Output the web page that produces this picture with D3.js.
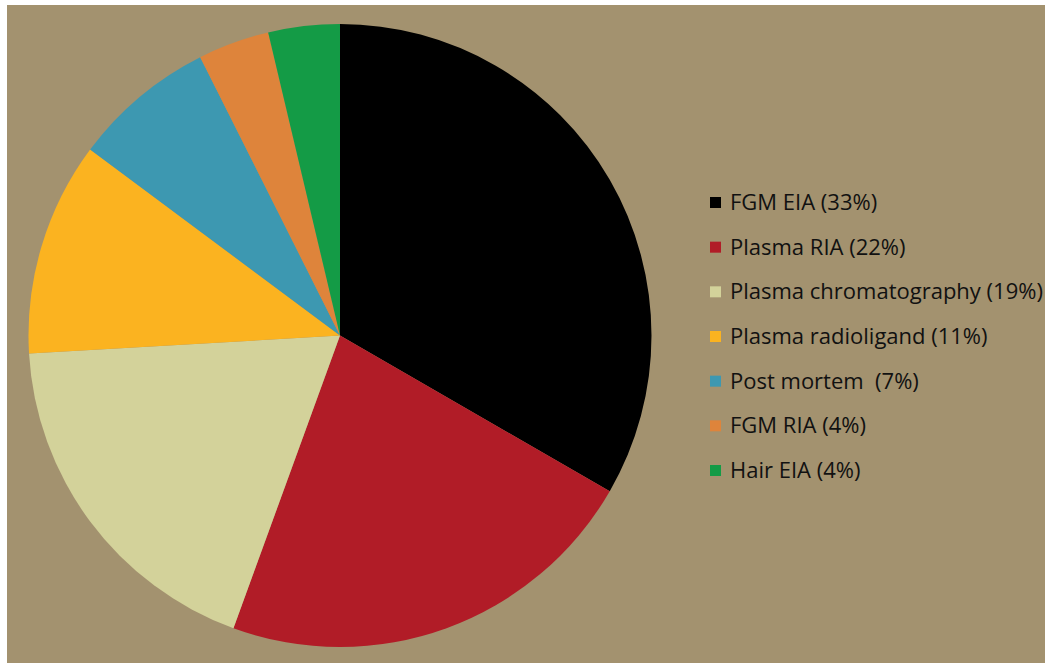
<!DOCTYPE html>
<html>
<head>
<meta charset="utf-8">
<script src="https://cdn.jsdelivr.net/npm/d3@7/dist/d3.min.js"></script>
<style>
  html, body { margin: 0; padding: 0; background: #ffffff; }
  svg { display: block; }
</style>
</head>
<body>
<div id="chart"></div>
<script>
// Data: study counts by method (n = 27), legend labels as printed
const methods = ['FGM EIA', 'Plasma RIA', 'Plasma chromatography', 'Plasma radioligand', 'Post mortem', 'FGM RIA', 'Hair EIA'];
const counts = [9, 6, 5, 3, 2, 1, 1];
const legendLabels = ['FGM EIA (33%)', 'Plasma RIA (22%)', 'Plasma chromatography (19%)', 'Plasma radioligand (11%)', 'Post mortem  (7%)', 'FGM RIA (4%)', 'Hair EIA (4%)'];
const colors = ['#000000', '#b11c27', '#d3d29a', '#fbb320', '#3d98b1', '#de843b', '#149b46'];

const width = 1050;
const height = 663;

const svg = d3
  .select('#chart')
  .append('svg')
  .attr('width', width)
  .attr('height', height);

// Panel background
svg
  .append('rect')
  .attr('x', 7)
  .attr('y', 5)
  .attr('width', 1045 - 7)
  .attr('height', height - 5)
  .attr('fill', '#a3926f');

/* Pie
=========================================================================*/
const colorScale = d3.scaleOrdinal().domain(methods).range(colors);

const pie = d3.pie().value((d) => d.count).sort(null);
const arc = d3.arc().innerRadius(0).outerRadius(311.5);

const data = methods.map((m, i) => ({ method: m, count: counts[i] }));

svg
  .append('g')
  .attr('transform', 'translate(340, 335.5)')
  .selectAll('path')
  .data(pie(data))
  .enter()
  .append('path')
  .attr('d', arc)
  .attr('fill', (d) => colorScale(d.data.method));

/* Legend
=========================================================================*/
const legendY = d3.scalePoint().domain(methods).range([202, 470]);

const legend = svg.append('g').attr('transform', 'translate(710, 0)');

const items = legend
  .selectAll('g')
  .data(methods)
  .enter()
  .append('g')
  .attr('transform', (d) => `translate(0, ${legendY(d)})`);

items
  .append('rect')
  .attr('x', 0)
  .attr('y', -5)
  .attr('width', 11)
  .attr('height', 11)
  .attr('fill', (d) => colorScale(d));

items
  .append('text')
  .attr('x', 20)
  .attr('y', 8)
  .style('font-family', '"Open Sans", sans-serif')
  .style('font-size', '22px')
  .style('fill', '#111')
  .style('white-space', 'pre')
  .text((d, i) => legendLabels[i]);
</script>
</body>
</html>
